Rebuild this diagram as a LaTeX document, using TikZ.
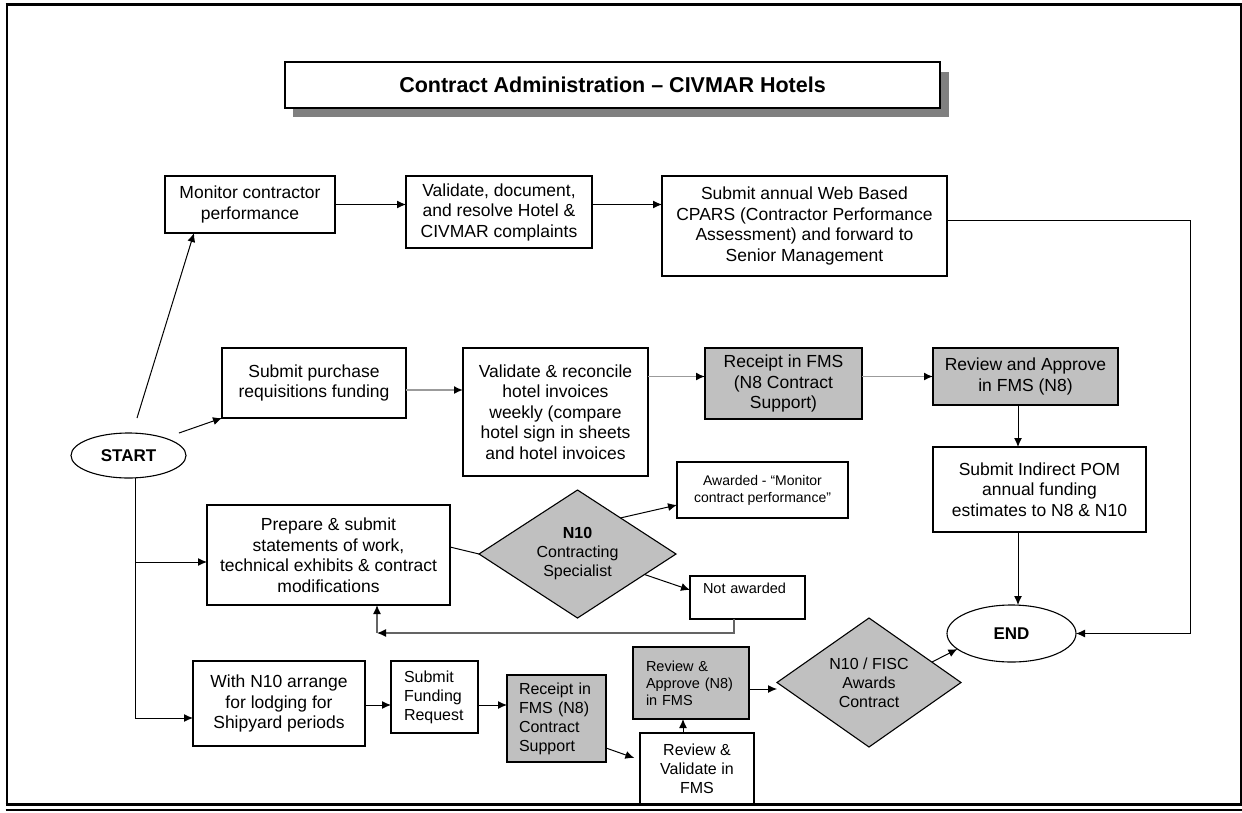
\documentclass[tikz,border=0pt]{standalone}
\usepackage{fontspec}
\setmainfont{Liberation Sans}
\usetikzlibrary{shapes.geometric,arrows.meta}

\definecolor{cc0c0c0}{RGB}{192,192,192}
\definecolor{c999999}{RGB}{155,155,155}
\definecolor{c808080}{RGB}{128,128,128}
\definecolor{c666666}{RGB}{100,100,100}

\tikzset{
  box/.style={draw=black, line width=1.3pt, fill=white, align=center,
    font=\fontsize{17.5}{20.5}\selectfont},
  greybox/.style={box, fill=cc0c0c0},
  midtext/.style={font=\fontsize{16}{19}\selectfont},
  smalltext/.style={font=\fontsize{14.5}{17}\selectfont},
  decision/.style={diamond, draw=black, line width=1.1pt, fill=cc0c0c0,
    align=center, font=\fontsize{16}{19}\selectfont},
  terminal/.style={ellipse, draw=black, line width=1.1pt, fill=white,
    font=\fontsize{17}{20}\selectfont\bfseries},
  link/.style={draw=black, line width=1pt},
  greylink/.style={draw=c999999, line width=1.6pt},
  backlink/.style={draw=c666666, line width=1.3pt},
  tip/.style={-{Latex[length=9pt,width=8pt,color=black]}}
}

\begin{document}
\begin{tikzpicture}[y=1pt, x=1pt, yscale=-1, inner sep=0pt, outer sep=0pt]
\useasboundingbox (0,0) rectangle (1242,812);

% frame
\path[draw=black, line width=3pt] (5.5,4) -- (1242,4);
\path[draw=black, line width=2pt] (7,4) -- (7,805);
\path[draw=black, line width=2pt] (1241,4) -- (1241,805);
\path[draw=black, line width=3pt] (5.5,804.5) -- (1242,804.5);
\path[draw=black, line width=1.5pt] (5.5,810) -- (1242,810);

% title
\path[fill=c808080] (293,72) rectangle (949,117);
\node[box, line width=1.5pt, minimum width=655pt, minimum height=46pt,
  font=\fontsize{21.5}{24}\selectfont\bfseries] (title) at (612.5,85)
  {Contract Administration – CIVMAR Hotels};

% terminals
\node[terminal, minimum width=115pt, minimum height=45pt] (start) at (128.5,455.5) {START};
\node[terminal, minimum width=129pt, minimum height=57pt] (end) at (1011.5,633.5) {END};

% top row
\node[box, minimum width=170pt, minimum height=57pt] (monitor) at (250,204.5)
  {Monitor contractor\\performance};
\node[box, minimum width=186pt, minimum height=72pt] (validate) at (499,212)
  {Validate, document,\\and resolve Hotel \&\\CIVMAR complaints};
\node[box, minimum width=285pt, minimum height=100pt] (cpars) at (804.5,226)
  {Submit annual Web Based\\CPARS (Contractor Performance\\Assessment) and forward to\\Senior Management};

% second row
\node[box, minimum width=184pt, minimum height=70pt] (purchase) at (314,383)
  {Submit purchase\\requisitions funding};
\node[box, minimum width=185pt, minimum height=128pt] (reconcile) at (555.5,412)
  {Validate \& reconcile\\hotel invoices\\weekly (compare\\hotel sign in sheets\\and hotel invoices};
\node[greybox, minimum width=157pt, minimum height=71pt] (receipt) at (783.5,383.5)
  {Receipt in FMS\\(N8 Contract\\Support)};
\node[greybox, minimum width=185pt, minimum height=57pt] (approve) at (1025.5,376.5)
  {Review and Approve\\in FMS (N8)};
\node[box, minimum width=213pt, minimum height=85pt] (pom) at (1039.5,489.5)
  {Submit Indirect POM\\annual funding\\estimates to N8 \& N10};

% third row
\node[box, minimum width=243pt, minimum height=100pt] (prepare) at (328.5,555)
  {Prepare \& submit\\statements of work,\\technical exhibits \& contract\\modifications};
\node[decision, aspect=1.54, minimum width=197pt, minimum height=128pt] (specialist)
  at (577.5,554) {\textbf{N10}\\Contracting\\Specialist};
\node[box, smalltext, font=\fontsize{14}{17}\selectfont, minimum width=171pt,
  minimum height=56pt] (awarded) at (762.5,490)
  {Awarded - “Monitor\\contract performance”};
\node[box, smalltext, align=left, text width=89pt, text depth=18pt,
  minimum width=115pt, minimum height=43pt] (notaw) at (747.5,597.5) {Not awarded};

% bottom row
\node[box, minimum width=172pt, minimum height=85pt] (lodging) at (279,703.5)
  {With N10 arrange\\for lodging for\\Shipyard periods};
\node[box, midtext, align=left, text width=61pt, minimum width=87pt,
  minimum height=72pt] (funding) at (434.5,697) {Submit\\Funding\\Request};
\node[greybox, midtext, align=left, text width=75pt, minimum width=99pt,
  minimum height=87pt] (receipt8) at (556.5,718.5)
  {Receipt in\\FMS (N8)\\Contract\\Support};
\node[box, midtext, minimum width=114pt, minimum height=71pt] (revval) at (697,768.5)
  {Review \&\\Validate in\\FMS};
\node[greybox, smalltext, align=left, text width=90pt, minimum width=116pt,
  minimum height=72pt] (revapp) at (691,683) {Review \&\\Approve (N8)\\in FMS};
\node[decision, aspect=1.43, minimum width=184pt, minimum height=129pt] (fisc)
  at (869,682.5) {N10 / FISC\\Awards\\Contract};

% helper points
\coordinate (startup) at (137,418);
\coordinate (startright) at (179,433);
\coordinate (trunkp) at (135,562);
\coordinate (trunkl) at (135,718);
\coordinate (cparsturn) at (1190,633.5);
\coordinate (backturn) at (377,633);

% connectors
\path[link, tip] (startup) -- ([xshift=-56pt]monitor.south);
\path[link, tip] (startright) -- (purchase.south west);
\path[link, tip] (monitor.east) -- (monitor.east -| validate.west);
\path[link, tip] (validate.east |- monitor.east) -- (cpars.west |- monitor.east);
\path[link, tip] (cpars.east |- 0,220) -- (cparsturn |- 0,220) -- (cparsturn) -- (end.east);

\path[greylink, tip] (purchase.east |- 0,390) -- (reconcile.west |- 0,390);
\path[greylink, tip] (reconcile.east |- approve.west) -- (receipt.west |- approve.west);
\path[greylink, tip] (receipt.east |- approve.west) -- (approve.west);
\path[link, tip] (approve.south -| 1018,0) -- (pom.north -| 1018,0);
\path[link, tip] (pom.south -| 1018,0) -- (end.north -| 1018,0);

\path[link] (start.south -| trunkl) -- (trunkl);
\path[link, tip] (trunkp) -- (prepare.west |- trunkp);
\path[link, tip] (trunkl) -- (lodging.west |- trunkl);

\path[link] (prepare.east |- 0,547) -- (specialist.west);
\path[link, tip] (specialist.40) -- (awarded.west |- 0,505);
\path[link, tip] (specialist.-17) -- (notaw.west |- 0,590);
\path[backlink, tip] (notaw.south -| 734,0) |- (backturn);
\path[backlink, tip] (backturn) -- (prepare.south -| backturn);

\path[link, tip] (lodging.east |- 0,705) -- (funding.west |- 0,705);
\path[link, tip] (funding.east |- 0,705) -- (receipt8.west |- 0,705);
\path[link, tip, shorten >=6pt] (receipt8.east |- 0,748) -- (revval.west |- 0,760);
\path[link, tip] (revval.north -| 683,0) -- (revapp.south -| 683,0);
\path[link, tip] (revapp.east |- 0,689) -- (fisc.west |- 0,689);
\path[link, tip] (fisc.18) -- (end.196);

\end{tikzpicture}
\end{document}
